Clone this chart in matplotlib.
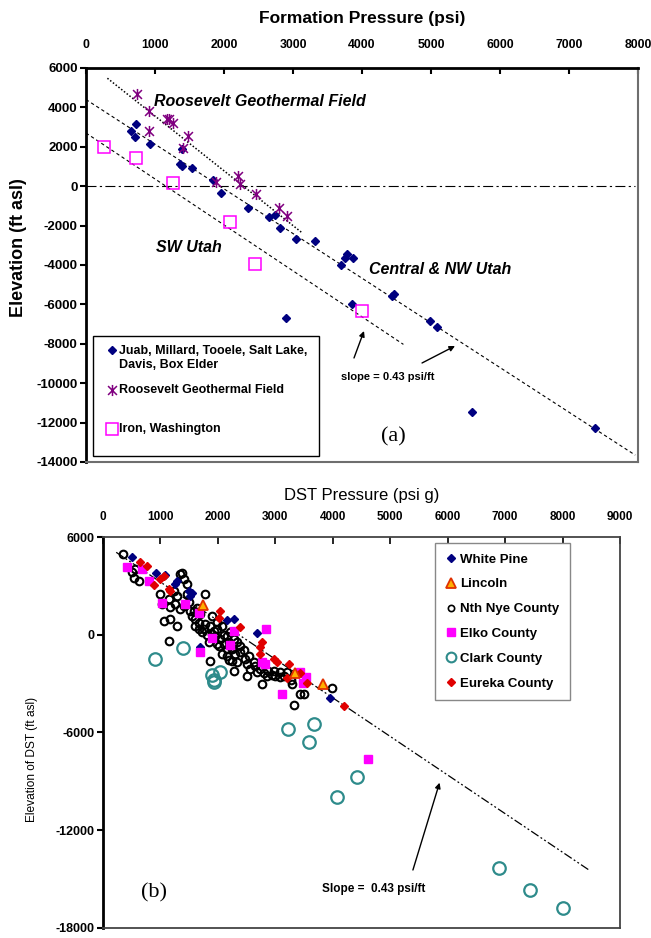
import matplotlib
matplotlib.use("Agg")
import matplotlib.pyplot as plt
from matplotlib.path import Path
from matplotlib.patches import Rectangle
from matplotlib.lines import Line2D

plt.rcParams['font.family'] = ['Liberation Sans', 'DejaVu Sans']

# ---------------- Panel (a): Utah formation pressures ----------------
juab_p = [650, 720, 715, 930, 1360, 1390, 1530, 1386, 1840, 1950, 2350, 2650, 2740,
          2810, 3040, 3320, 3780, 3750, 3870, 3690, 4430, 4470, 3860, 2900, 4990,
          5080, 5590, 7380]
juab_e = [2800, 3150, 2500, 2150, 1150, 1000, 900, 1870, 300, -330, -1100, -1580, -1450,
          -2140, -2680, -2780, -3440, -3660, -3660, -4000, -5570, -5470, -5960, -6670,
          -6830, -7130, -11450, -12290]

roos_p = [735, 910, 910, 1180, 1210, 1260, 1480, 1400, 1890, 2210, 2230, 2460, 2800, 2910]
roos_e = [4670, 3820, 2820, 3410, 3410, 3220, 2550, 1950, 230, 530, 100, -410, -1090, -1490]

iron_p = [260, 720, 1255, 2090, 2450, 4000]
iron_e = [2000, 1420, 150, -1800, -3950, -6320]

# gradient lines drawn through each group
roos_line_p = [310, 3130]
roos_line_e = [5480, -2360]
central_line_p = [0, 7960]
central_line_e = [4400, -13650]
sw_line_p = [0, 4600]
sw_line_e = [2700, -8030]
sea_level_p = [0, 7950]
sea_level_e = [0, 0]

a_xticks = [0, 1000, 2000, 3000, 4000, 5000, 6000, 7000, 8000]
a_yticks = [6000, 4000, 2000, 0, -2000, -4000, -6000, -8000, -10000, -12000, -14000]

# ---------------- Panel (b): Nevada DST pressures ----------------
white_p = [505, 928, 1085, 1288, 1259, 1491, 1549, 1520, 2158, 2285, 2680, 1694, 3944]
white_e = [4780, 3803, 3640, 3295, 3091, 2685, 2583, 2380, 915, 996, 100, -773, -3885]

lincoln_p = [1740, 3347, 3828]
lincoln_e = [1810, -2340, -3011]

nye_p = [348, 534, 621, 505, 563, 998, 1143, 1172, 1259, 1056, 1172, 1288, 1143, 1346,
         1404, 1346, 1404, 1462, 1491, 1549, 1607, 1665, 1607, 1781, 1752, 1810, 1839,
         1868, 1926, 1868, 1955, 1984, 2042, 2100, 2013, 2158, 2187, 2245, 2274, 2332,
         2158, 2187, 2303, 2378, 2390, 2448, 2477, 2535, 2622, 2506, 2651, 2738, 2796,
         2865, 2941, 2999, 3086, 3155, 3271, 3289, 2767, 2274, 3422, 3492, 3318, 3985,
         1723, 1636, 1578, 1694, 1984, 2071, 2100, 2216, 1375, 1230, 1288, 1462, 1897,
         1781, 1677, 2332, 2506, 2564, 2680, 2854, 2970, 3086, 3202, 2158, 2245, 1984,
         2071, 1897, 1520, 1027]
nye_e = [4983, 3498, 3295, 3844, 4047, 2481, 2176, 1729, 1871, 854, 996, 549, -367, 1566,
         1769, 3702, 3397, 3091, 2013, 1159, 956, 712, 508, 2481, 345, -21, -427,
         549, 244, -1587, -61, 345, -265, -570, -712, -61, -468, -875, -265, -468,
         -1282, -1526, -1180, -1038, -671, -916, -1485, -1282, -1648, -2543, -1933, -2095, -2339,
         -2197, -2461, -2543, -2299, -2502, -2807, -3011, -3011, -2197, -3621, -3621, -4333, -3275,
         142, 1668, 1464, 1261, 752, 549, -21, 142, 3803, 2685, 2380, 2481, 1159,
         651, 345, -1689, -1790, -2095, -2258, -2502, -2197, -2604, -2258, -875, -1587, -570,
         -1180, 40, 1464, 1871]

elko_p = [418, 679, 795, 1027, 1433, 1665, 1694, 1897, 2216, 2285, 2836, 2767, 2825,
          3115, 3434, 3538, 3480, 4620]
elko_e = [4169, 4007, 3295, 1973, 1871, 1362, -1038, -224, -631, 244, 346, -1648, -1790,
          -3662, -2299, -2604, -2950, -7650]

clark_p = [910, 1400, 1900, 2040, 1925, 1925, 3220, 3680, 3580, 4420, 4070, 6890, 7440, 8000]
clark_e = [-1490, -830, -2460, -2300, -2750, -2910, -5800, -5500, -6580, -8710, -9980,
           -14300, -15690, -16750]

eureka_p = [650, 766, 893, 998, 1056, 1143, 1172, 2042, 2013, 2390, 2767, 2737, 2726,
            2970, 3028, 3231, 3202, 3434, 3550, 4188]
eureka_e = [4454, 4210, 3030, 3437, 3600, 2827, 2685, 1464, 1057, 447, -427, -773, -1180,
            -1485, -1648, -1790, -2665, -2340, -2950, -4373]

hydro_line_p = [230, 8460]
hydro_line_e = [5060, -14440]

b_xticks = [0, 1000, 2000, 3000, 4000, 5000, 6000, 7000, 8000, 9000]
b_yticks = [6000, 0, -6000, -12000, -18000]

NAVY = '#000080'
PURPLE = '#800080'
MAGENTA = '#ff00ff'
TEAL = '#2e8b8b'
RED = '#e00000'

# asterisk-style marker: vertical bar plus an X
star = Path([(0, -1), (0, 1), (-0.8, -0.8), (0.8, 0.8), (-0.8, 0.8), (0.8, -0.8)],
            [Path.MOVETO, Path.LINETO] * 3)

fig = plt.figure(figsize=(6.51, 9.38), dpi=100)

# ======================= (a) =======================
ax = fig.add_axes([86 / 651, 1 - 462 / 938, 552 / 651, 394 / 938])
ax.set_xlim(0, 8000)
ax.set_ylim(-14000, 6000)

ax.plot(sea_level_p, sea_level_e, color='black', lw=0.8, ls=(0, (9, 3, 2, 3)), zorder=1)
ax.plot(roos_line_p, roos_line_e, color='black', lw=1.1, ls=(0, (1, 1.3)), zorder=1)
ax.plot(central_line_p, central_line_e, color='black', lw=0.8, ls=(0, (3, 2.5)), zorder=1)
ax.plot(sw_line_p, sw_line_e, color='black', lw=0.8, ls=(0, (3, 2.5)), zorder=1)

ax.plot(juab_p, juab_e, ls='none', marker='D', ms=4.2, color=NAVY, zorder=3)
ax.plot(roos_p, roos_e, ls='none', marker=star, ms=8, mew=1.1, color=PURPLE, zorder=4)
ax.plot(iron_p, iron_e, ls='none', marker='s', ms=8, mew=1.1, mfc='none', mec=MAGENTA, zorder=3)

ax.xaxis.tick_top()
ax.xaxis.set_label_position('top')
ax.set_xticks(a_xticks)
ax.set_xticklabels([str(v) for v in a_xticks], fontweight='bold', fontsize=8.8)
ax.set_yticks(a_yticks)
ax.set_yticklabels([str(v) for v in a_yticks], fontweight='bold', fontsize=9.5)
ax.tick_params(axis='x', direction='in', length=4, width=1.5, pad=12)
ax.tick_params(axis='y', direction='out', length=4, width=1.5, pad=2)
ax.set_xlabel('Formation Pressure (psi)', fontweight='bold', fontsize=12.5, labelpad=12)
ax.set_ylabel('Elevation (ft asl)', fontweight='bold', fontsize=13)
ax.yaxis.set_label_coords(-0.107, 0.543)

for side in ('left', 'top'):
    ax.spines[side].set_linewidth(2)
    ax.spines[side].set_color('black')
for side in ('right', 'bottom'):
    ax.spines[side].set_linewidth(1.5)
    ax.spines[side].set_color('#6e6e6e')

ax.text(990, 4300, 'Roosevelt Geothermal Field', fontsize=11.5, fontweight='bold',
        fontstyle='italic', ha='left', va='center')
ax.text(1017, -3135, 'SW Utah', fontsize=11.5, fontweight='bold', fontstyle='italic',
        ha='left', va='center')
ax.text(4101, -4250, 'Central & NW Utah', fontsize=11.5, fontweight='bold', fontstyle='italic',
        ha='left', va='center')
ax.text(4377, -9685, 'slope = 0.43 psi/ft', fontsize=8, fontweight='bold',
        ha='center', va='center')
ax.text(4449, -12730, '(a)', fontsize=16, family=['Liberation Serif', 'DejaVu Serif'],
        ha='center', va='center')

arrow_kw = dict(arrowstyle='-|>', lw=1.0, color='black', mutation_scale=8, shrinkA=0, shrinkB=0)
ax.annotate('', xy=(4029, -7350), xytext=(3884, -8720), arrowprops=arrow_kw)
ax.annotate('', xy=(5348, -8111), xytext=(4870, -8974), arrowprops=arrow_kw)

# boxed key for the Utah groups
ax.add_patch(Rectangle((0.0127, 0.0152), 0.409, 0.3046, transform=ax.transAxes,
                       fill=False, ec='black', lw=1.0, zorder=5))
ax.plot([0.0476], [0.284], transform=ax.transAxes, ls='none', marker='D', ms=4.2,
        color=NAVY, clip_on=False, zorder=6)
ax.plot([0.0476], [0.183], transform=ax.transAxes, ls='none', marker=star, ms=8, mew=1.1,
        color=PURPLE, clip_on=False, zorder=6)
ax.plot([0.0476], [0.084], transform=ax.transAxes, ls='none', marker='s', ms=8, mew=1.1,
        mfc='none', mec=MAGENTA, clip_on=False, zorder=6)
key_kw = dict(transform=ax.transAxes, fontsize=9, fontweight='bold', ha='left', zorder=6)
ax.text(0.0603, 0.296, 'Juab, Millard, Tooele, Salt Lake,\nDavis, Box Elder', va='top',
        linespacing=1.2, **key_kw)
ax.text(0.0603, 0.183, 'Roosevelt Geothermal Field', va='center', **key_kw)
ax.text(0.0603, 0.084, 'Iron, Washington', va='center', **key_kw)

# ======================= (b) =======================
bx = fig.add_axes([103 / 651, 1 - 928 / 938, 517 / 651, 391 / 938])
bx.set_xlim(0, 9000)
bx.set_ylim(-18000, 6000)

bx.plot(hydro_line_p, hydro_line_e, color='black', lw=0.9, ls=(0, (7, 2, 1.5, 2, 1.5, 2)),
        zorder=1)

bx.plot(nye_p, nye_e, ls='none', marker='o', ms=5.5, mfc='none', mec='black', mew=1.5, zorder=2)
bx.plot(clark_p, clark_e, ls='none', marker='o', ms=9, mfc='none', mec=TEAL, mew=1.6, zorder=2)
bx.plot(white_p, white_e, ls='none', marker='D', ms=4.5, color=NAVY, zorder=3)
bx.plot(elko_p, elko_e, ls='none', marker='s', ms=5.5, color=MAGENTA, zorder=3)
bx.plot(eureka_p, eureka_e, ls='none', marker='D', ms=4.5, color=RED, zorder=3)
bx.plot(lincoln_p, lincoln_e, ls='none', marker='^', ms=7, mfc='#ffb000', mec='#e03000',
        mew=1.3, zorder=4)

bx.xaxis.tick_top()
bx.xaxis.set_label_position('top')
bx.set_xticks(b_xticks)
bx.set_xticklabels([str(v) for v in b_xticks], fontweight='bold', fontsize=8.5)
bx.set_yticks(b_yticks)
bx.set_yticklabels([str(v) for v in b_yticks], fontweight='bold', fontsize=9)
bx.tick_params(axis='x', direction='in', length=5, width=1.2, pad=10)
bx.tick_params(axis='y', direction='out', length=4, width=1.5, pad=2)
bx.set_xlabel('DST Pressure (psi g)', fontsize=12, labelpad=8)
bx.set_ylabel('Elevation of DST (ft asl)', fontsize=8.6)
bx.yaxis.set_label_coords(-0.126, 0.43)

bx.spines['left'].set_linewidth(2)
bx.spines['left'].set_color('black')
for side in ('top', 'right', 'bottom'):
    bx.spines[side].set_linewidth(1.3)
    bx.spines[side].set_color('#444444')

bx.text(4713, -15606, 'Slope =  0.43 psi/ft', fontsize=8.5, fontweight='bold',
        ha='center', va='center')
bx.text(890, -15870, '(b)', fontsize=16, family=['Liberation Serif', 'DejaVu Serif'],
        ha='center', va='center')
bx.annotate('', xy=(5859, -9081), xytext=(5395, -14440), arrowprops=arrow_kw)

handles = [
    Line2D([], [], ls='none', marker='D', ms=4, color=NAVY),
    Line2D([], [], ls='none', marker='^', ms=7, mfc='#ffb000', mec='#e03000', mew=1.3),
    Line2D([], [], ls='none', marker='o', ms=4.5, mfc='none', mec='black', mew=1.2),
    Line2D([], [], ls='none', marker='s', ms=5.5, color=MAGENTA),
    Line2D([], [], ls='none', marker='o', ms=7, mfc='none', mec=TEAL, mew=1.5),
    Line2D([], [], ls='none', marker='D', ms=4, color=RED),
]
labels = ['White Pine', 'Lincoln', 'Nth Nye County', 'Elko County', 'Clark County',
          'Eureka County']
leg = bx.legend(handles, labels, loc='upper left', bbox_to_anchor=(0.642, 0.985),
                prop={'weight': 'bold', 'size': 9.5}, frameon=True,
                fancybox=False, edgecolor='#888888', framealpha=1, handlelength=0.8,
                handletextpad=0.3, labelspacing=0.95, borderpad=0.8, borderaxespad=0)
leg.get_frame().set_linewidth(1.0)

fig.savefig('out.png', dpi=100)
